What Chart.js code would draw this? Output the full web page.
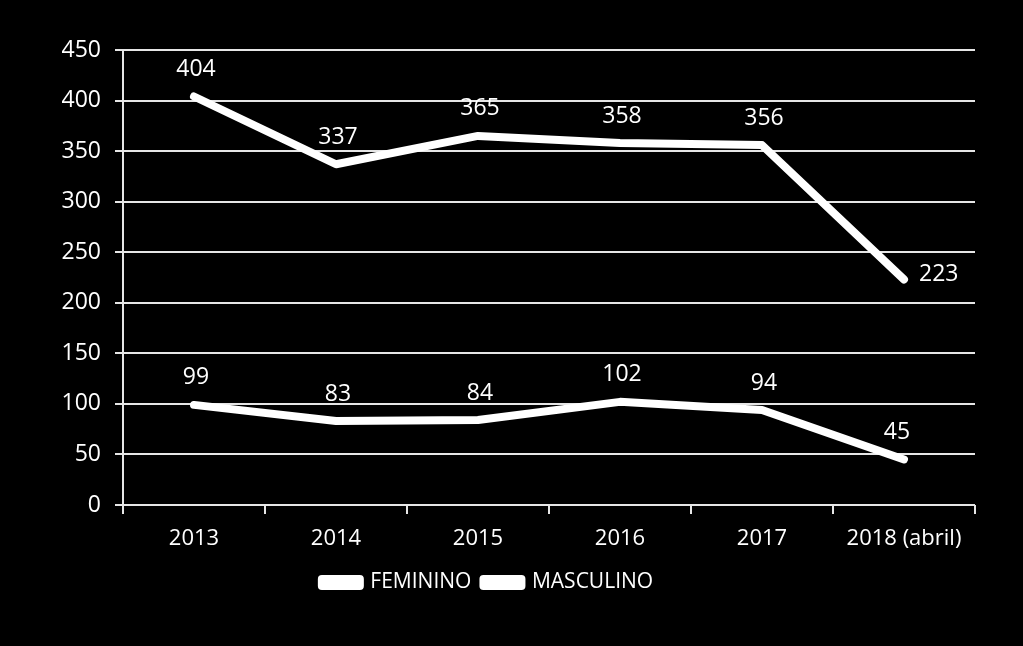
<!DOCTYPE html>
<html>
<head>
<meta charset="utf-8">
<script src="https://cdn.jsdelivr.net/npm/chart.js@4"></script>
<style>
    html, body { margin: 0; padding: 0; background: #000; }
    #wrap { width: 1023px; height: 646px; }
</style>
</head>
<body>
<div id="wrap"><canvas id="chart" width="1023" height="646"></canvas></div>
<script>
const categories = ['2013', '2014', '2015', '2016', '2017', '2018 (abril)'];
const feminino = [404, 337, 365, 358, 356, 223];
const masculino = [99, 83, 84, 102, 94, 45];
const yTicks = [0, 50, 100, 150, 200, 250, 300, 350, 400, 450];

const FONT = "'Open Sans', 'DejaVu Sans', sans-serif";

// etiquetas de valor sobre cada ponto
const valueLabels = {
    id: 'valueLabels',
    afterDatasetsDraw(chart) {
        const ctx = chart.ctx;
        ctx.save();
        ctx.fillStyle = '#fff';
        ctx.font = '23px ' + FONT;
        ctx.textBaseline = 'middle';
        chart.data.datasets.forEach((ds, di) => {
            const meta = chart.getDatasetMeta(di);
            meta.data.forEach((pt, i) => {
                const last = i === ds.data.length - 1;
                if (di === 0 && last) {
                    ctx.textAlign = 'left';
                    ctx.fillText(ds.data[i], pt.x + 15, pt.y - 5);
                } else {
                    ctx.textAlign = 'center';
                    ctx.fillText(ds.data[i], pt.x + (last ? -7 : 2), pt.y - 27);
                }
            });
        });
        ctx.restore();
    }
};

new Chart(document.getElementById('chart').getContext('2d'), {
    type: 'line',
    data: {
        labels: categories,
        datasets: [{
            label: 'FEMININO',
            data: feminino,
            borderColor: '#fff',
            backgroundColor: '#fff',
            borderWidth: 8,
            borderCapStyle: 'round',
            borderJoinStyle: 'round',
            pointRadius: 0,
            tension: 0
        }, {
            label: 'MASCULINO',
            data: masculino,
            borderColor: '#fff',
            backgroundColor: '#fff',
            borderWidth: 8,
            borderCapStyle: 'round',
            borderJoinStyle: 'round',
            pointRadius: 0,
            tension: 0
        }]
    },
    options: {
        responsive: false,
        animation: false,
        layout: { padding: { top: 50, right: 48, left: 0, bottom: 43 } },
        plugins: {
            legend: {
                position: 'bottom',
                labels: {
                    color: '#fff',
                    font: { family: FONT, size: 21 },
                    boxWidth: 38,
                    boxHeight: 7,
                    padding: 12
                }
            },
            tooltip: { enabled: false }
        },
        scales: {
            x: {
                offset: true,
                grid: {
                    offset: true,
                    drawOnChartArea: false,
                    color: '#e6e6e6',
                    lineWidth: 2,
                    tickLength: 9
                },
                border: { display: false },
                ticks: {
                    color: '#fff',
                    font: { family: FONT, size: 22 },
                    padding: 12,
                    maxRotation: 0
                },
                afterFit(scale) { scale.height = 55; }
            },
            y: {
                min: 0,
                max: 450,
                afterBuildTicks(scale) { scale.ticks = yTicks.map(v => ({ value: v })); },
                grid: {
                    color: '#e6e6e6',
                    lineWidth: 2,
                    tickLength: 8
                },
                border: { color: '#e6e6e6', width: 2 },
                ticks: {
                    color: '#fff',
                    font: { family: FONT, size: 23 },
                    padding: 14
                },
                afterFit(scale) { scale.width = 123; }
            }
        }
    },
    plugins: [valueLabels]
});
</script>
</body>
</html>
